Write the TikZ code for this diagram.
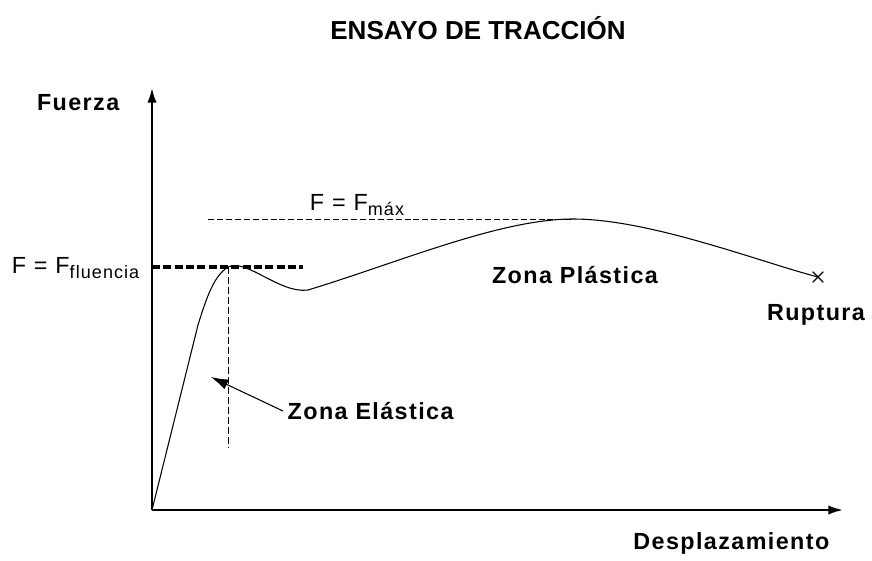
\documentclass[tikz,border=0pt]{standalone}
\usepackage{fontspec}
\setmainfont{Liberation Sans}
\newfontfamily\lblfont[LetterSpace=6]{Liberation Sans}
\newcommand{\subidx}[1]{\raisebox{-0.35ex}{\fontsize{13.5}{14}\selectfont #1}}
\usetikzlibrary{arrows.meta,shapes.misc}

\begin{document}
\begin{tikzpicture}[x=0.75pt,y=-0.75pt,>={Latex[length=11pt,width=7pt]},
	lbl/.style={font=\lblfont\bfseries\fontsize{17.5}{20}\selectfont},
	flbl/.style={font=\lblfont\fontsize{17.5}{20}\selectfont},
	axis/.style={line width=1.5pt},
	curva/.style={line width=0.8pt},
	guia/.style={dash pattern=on 4.5pt off 2.2pt,line width=0.7pt}]
	\useasboundingbox (0,0) rectangle (872,561);

	\node[font=\bfseries\fontsize{19.5}{21}\selectfont] (titulo) at (478,28) {ENSAYO DE TRACCIÓN};

	% ejes
	\coordinate (O) at (152,510);
	\coordinate (ytop) at (152,88);
	\coordinate (xend) at (843,510);
	\draw[axis,->] (O) -- (ytop);
	\draw[axis,->] (O) -- (xend);
	\node[lbl,anchor=east] (fuerza) at (124,103) {Fuerza};
	\node[lbl,anchor=east] (desp) at (834,543) {Desplazamiento};

	% curva
	\coordinate (Y) at (228,267);
	\coordinate (D) at (308,290);
	\coordinate (M) at (573,219);
	\node[cross out,draw,minimum size=7pt,inner sep=0pt,line width=0.9pt] (R) at (818,277) {};
	\draw[curva] (O) -- (198,325) .. controls (207,296) and (214,276) .. (Y)
		.. controls (246,258) and (280,294) .. (D)
		.. controls (400,262) and (500,219) .. (M)
		.. controls (650,219) and (760,262) .. (R.center);

	% fluencia
	\coordinate (FL) at (152,267);
	\coordinate (FLe) at (303,267);
	\coordinate (V) at (228,448);
	\draw[dash pattern=on 6pt off 2.5pt,line width=2.4pt] (FL) -- (FLe);
	\draw[dash pattern=on 5pt off 2.5pt,line width=0.7pt] (Y) -- (V);
	\node[flbl,anchor=east] (ffl) at (144,268) {F = F\subidx{fluencia}};

	% maxima
	\coordinate (MX) at (208,219);
	\draw[guia] (MX) -- (M);
	\node[flbl] (fmax) at (357,205) {F = F\subidx{máx}};

	% zonas
	\node[lbl] (plast) at (575,275) {Zona Plástica};
	\node[lbl] (rupt) at (816,315) {Ruptura};
	\node[lbl,anchor=west] (elast) at (283,411) {Zona Elástica};
	\coordinate (ET) at (211,377);
	\draw[->,line width=0.8pt,>={Latex[length=13pt,width=8pt]}] (elast.west) -- (ET);
\end{tikzpicture}
\end{document}
